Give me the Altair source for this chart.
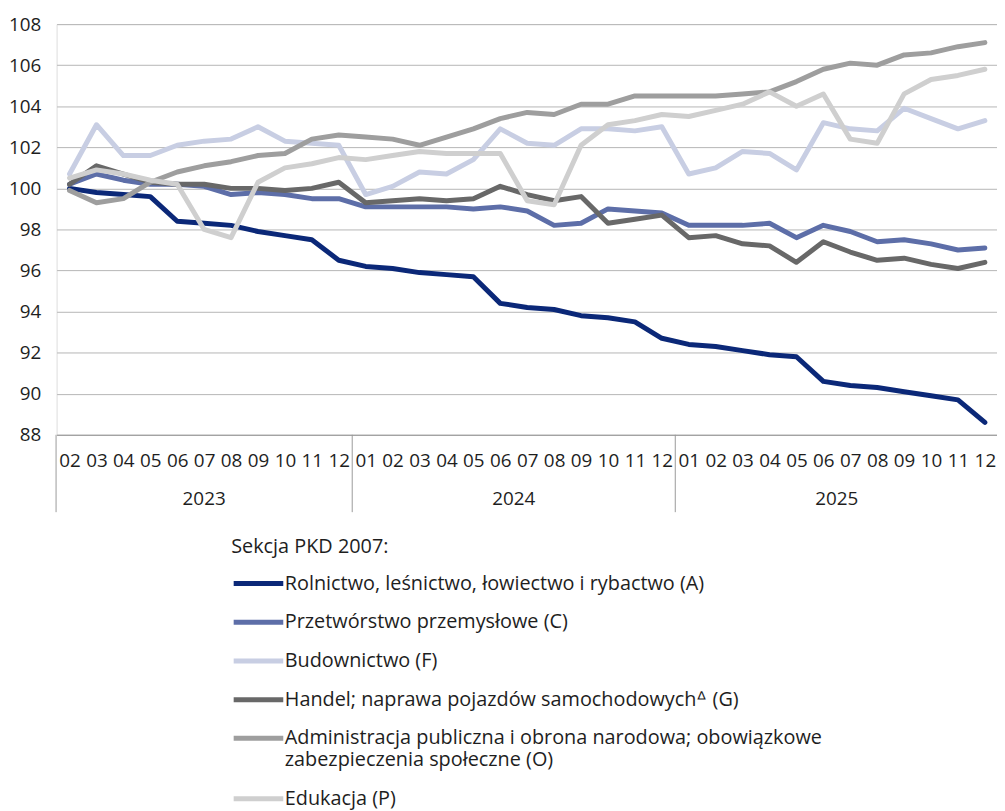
import altair as alt
import pandas as pd

month_labels = ["02", "03", "04", "05", "06", "07", "08", "09", "10", "11", "12",
                "01", "02", "03", "04", "05", "06", "07", "08", "09", "10", "11", "12",
                "01", "02", "03", "04", "05", "06", "07", "08", "09", "10", "11", "12"]
year_names = ["2023", "2024", "2025"]
year_centers = [5, 16.5, 28.5]
year_bounds = [-0.5, 10.5, 22.5]

series_names = [
    "Rolnictwo, leśnictwo, łowiectwo i rybactwo (A)",
    "Przetwórstwo przemysłowe (C)",
    "Budownictwo (F)",
    "Handel; naprawa pojazdów samochodowychᐞ (G)",
    "Administracja publiczna i obrona narodowa; obowiązkowe\nzabezpieczenia społeczne (O)",
    "Edukacja (P)",
]
series_colors = ["#0b2878", "#5d6ea8", "#c8cee3", "#686868", "#9e9e9e", "#cfcfcf"]

A = [100.0, 99.8, 99.7, 99.6, 98.4, 98.3, 98.2, 97.9, 97.7, 97.5, 96.5,
     96.2, 96.1, 95.9, 95.8, 95.7, 94.4, 94.2, 94.1, 93.8, 93.7, 93.5, 92.7,
     92.4, 92.3, 92.1, 91.9, 91.8, 90.6, 90.4, 90.3, 90.1, 89.9, 89.7, 88.6]
C = [100.2, 100.7, 100.4, 100.2, 100.2, 100.1, 99.7, 99.8, 99.7, 99.5, 99.5,
     99.1, 99.1, 99.1, 99.1, 99.0, 99.1, 98.9, 98.2, 98.3, 99.0, 98.9, 98.8,
     98.2, 98.2, 98.2, 98.3, 97.6, 98.2, 97.9, 97.4, 97.5, 97.3, 97.0, 97.1]
F = [100.7, 103.1, 101.6, 101.6, 102.1, 102.3, 102.4, 103.0, 102.3, 102.2, 102.1,
     99.7, 100.1, 100.8, 100.7, 101.4, 102.9, 102.2, 102.1, 102.9, 102.9, 102.8, 103.0,
     100.7, 101.0, 101.8, 101.7, 100.9, 103.2, 102.9, 102.8, 103.9, 103.4, 102.9, 103.3]
G = [100.2, 101.1, 100.7, 100.3, 100.2, 100.2, 100.0, 100.0, 99.9, 100.0, 100.3,
     99.3, 99.4, 99.5, 99.4, 99.5, 100.1, 99.7, 99.4, 99.6, 98.3, 98.5, 98.7,
     97.6, 97.7, 97.3, 97.2, 96.4, 97.4, 96.9, 96.5, 96.6, 96.3, 96.1, 96.4]
O = [99.9, 99.3, 99.5, 100.3, 100.8, 101.1, 101.3, 101.6, 101.7, 102.4, 102.6,
     102.5, 102.4, 102.1, 102.5, 102.9, 103.4, 103.7, 103.6, 104.1, 104.1, 104.5, 104.5,
     104.5, 104.5, 104.6, 104.7, 105.2, 105.8, 106.1, 106.0, 106.5, 106.6, 106.9, 107.1]
P = [100.5, 100.9, 100.7, 100.4, 100.2, 98.0, 97.6, 100.3, 101.0, 101.2, 101.5,
     101.4, 101.6, 101.8, 101.7, 101.7, 101.7, 99.4, 99.2, 102.1, 103.1, 103.3, 103.6,
     103.5, 103.8, 104.1, 104.7, 104.0, 104.6, 102.4, 102.2, 104.6, 105.3, 105.5, 105.8]

rows = []
for name, vals in zip(series_names, [A, C, F, G, O, P]):
    for i, v in enumerate(vals):
        rows.append({"i": i, "value": v, "series": name})
df = pd.DataFrame(rows)

FONT = "Open Sans"
TXT = "#1e1e1e"
W, H = 948, 414

x_scale = alt.Scale(domain=[-0.48, 34.45], nice=False, zero=False)
label_arr = "[" + ",".join(f"'{m}'" for m in month_labels) + "]"
x_axis = alt.Axis(values=list(range(35)), labelExpr=f"{label_arr}[datum.value]",
                  title=None, grid=False, ticks=False, domain=True, domainColor="#9a9a9a",
                  labelFontSize=19, labelPadding=17, labelOverlap=False, labelFlush=False,
                  labelColor=TXT, labelFont=FONT)
y_axis = alt.Axis(values=list(range(88, 109, 2)), title=None, grid=True, gridColor="#b5b5b5",
                  gridWidth=1, domain=False, ticks=False, labelPadding=16, labelFontSize=19,
                  labelColor=TXT, labelFont=FONT)

lines = alt.Chart(df).mark_line(strokeWidth=5, strokeCap="round", strokeJoin="round").encode(
    x=alt.X("i:Q", scale=x_scale, axis=x_axis),
    y=alt.Y("value:Q", scale=alt.Scale(domain=[88, 108], nice=False, zero=False), axis=y_axis),
    color=alt.Color("series:N",
                    scale=alt.Scale(domain=series_names, range=series_colors),
                    legend=alt.Legend(
                        orient="none", legendX=176, legendY=517,
                        title="Sekcja PKD 2007:", titleFontSize=20, titleFontWeight="normal",
                        titleColor=TXT, titleFont=FONT, titlePadding=12,
                        labelFontSize=20, labelColor=TXT, labelFont=FONT,
                        labelExpr="split(datum.label, '\\n')", labelLimit=900,
                        symbolType="M-1,0H3", symbolStrokeWidth=5, symbolSize=625,
                        labelOffset=24, rowPadding=14, direction="vertical")),
)

sep = alt.Chart(pd.DataFrame({"i": year_bounds})).mark_rule(color="#9a9a9a", strokeWidth=1).encode(
    x=alt.X("i:Q", scale=x_scale, axis=x_axis),
    y=alt.value(H),
    y2=alt.value(H + 78),
)

yrs = alt.Chart(pd.DataFrame({"i": year_centers, "year": year_names})).mark_text(
    fontSize=19, baseline="middle", align="center", color=TXT, font=FONT
).encode(
    x=alt.X("i:Q", scale=x_scale, axis=x_axis),
    y=alt.value(H + 65),
    text="year:N",
)

chart = alt.layer(lines, sep, yrs).properties(
    width=W, height=H,
    padding={"left": 49, "top": 13, "right": 0, "bottom": 376},
    autosize="none",
    background="white",
).configure_view(stroke=None).configure(font=FONT)

chart.save("out.html", embed_options={"renderer": "svg", "actions": False})
